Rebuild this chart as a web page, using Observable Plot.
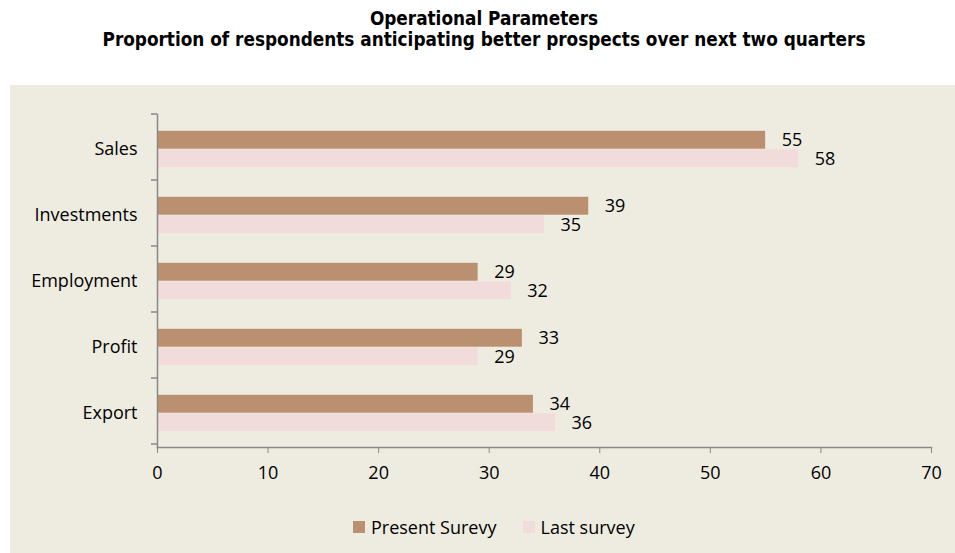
<!DOCTYPE html>
<html>
<head>
<meta charset="utf-8">
<script src="https://cdn.jsdelivr.net/npm/d3@7"></script>
<script src="https://cdn.jsdelivr.net/npm/@observablehq/plot@0.6"></script>
<style>
  html, body { margin: 0; padding: 0; background: #ffffff; }
  body { width: 955px; height: 553px; position: relative; overflow: hidden; }
  #title { position: absolute; left: 0; top: 8px; width: 968px; text-align: center;
    font-family: "DejaVu Sans Condensed", "DejaVu Sans", sans-serif; font-stretch: condensed;
    font-weight: bold; font-size: 18.8px; line-height: 21px; color: #000; }
  #panel { position: absolute; left: 10px; top: 85px; width: 945px; height: 468px; background: #EEECE1; }
  #chart svg { display: block; background: transparent; }
  #legend { position: absolute; left: 343px; top: 430px; display: flex; align-items: center;
    font-family: "Open Sans", sans-serif; font-size: 18px; color: #000; }
  .sw { width: 12px; height: 12px; display: inline-block; margin-right: 6px; }
  .item { display: flex; align-items: center; margin-right: 26px; }
</style>
</head>
<body>
<div id="title">Operational Parameters<br>Proportion of respondents anticipating better prospects over next two quarters</div>
<div id="panel">
  <div id="chart"></div>
  <div id="legend"></div>
</div>
<script>
const categories = ["Sales", "Investments", "Employment", "Profit", "Export"];
const seriesNames = ["Present Surevy", "Last survey"];
const presentValues = [55, 39, 29, 33, 34];
const lastValues = [58, 35, 32, 29, 36];
const xTicks = [0, 10, 20, 30, 40, 50, 60, 70];
const colors = ["#BA9070", "#F2DCDB"];

const present = categories.map((c, i) => ({category: c, series: seriesNames[0], value: presentValues[i]}));
const last = categories.map((c, i) => ({category: c, series: seriesNames[1], value: lastValues[i]}));

const axisGray = "#888888";
const font = "'Open Sans', sans-serif";
const fs = 18;

// boundary ticks on the y axis, drawn from the band scale
function yBoundaryTicks(index, scales, values, dimensions) {
  const y = scales.y;
  const {marginLeft} = dimensions;
  const step = y(categories[1]) - y(categories[0]);
  const starts = categories.map(c => y(c));
  const off = starts[0] - dimensions.marginTop; // 0 if band start, step/2 if center
  const bounds = starts.map(s => s - off);
  bounds.push(bounds[bounds.length - 1] + step);
  const g = d3.create("svg:g").attr("stroke", axisGray).attr("stroke-width", 1.5);
  for (const b of bounds) {
    g.append("line").attr("x1", marginLeft - 6).attr("x2", marginLeft).attr("y1", b).attr("y2", b);
  }
  return g.node();
}

const bw = (447 - 114) / 5;
const inOuter = bw * 0.222;
const inInner = bw * 0.5;

const chart = Plot.plot({
  width: 945,
  height: 410,
  marginTop: 29,
  marginBottom: 48,
  marginLeft: 147,
  marginRight: 24,
  style: {fontFamily: font, background: "transparent"},
  x: {domain: [0, 70], label: null},
  y: {domain: categories, padding: 0, label: null},
  marks: [
    Plot.barX(present, {x: "value", y: "category", fill: colors[0], insetTop: inOuter, insetBottom: inInner}),
    Plot.barX(last, {x: "value", y: "category", fill: colors[1], insetTop: inInner, insetBottom: inOuter}),
    Plot.text(present, {x: "value", y: "category", text: d => String(d.value), dx: 16, dy: -bw * 0.14, textAnchor: "start", fontSize: fs, fill: "#000"}),
    Plot.text(last, {x: "value", y: "category", text: d => String(d.value), dx: 16, dy: bw * 0.15, textAnchor: "start", fontSize: fs, fill: "#000"}),
    Plot.frame({anchor: "left", stroke: axisGray, strokeWidth: 1.5}),
    Plot.frame({anchor: "bottom", stroke: axisGray, strokeWidth: 1.5}),
    yBoundaryTicks,
    Plot.axisX({ticks: xTicks, tickSize: 6, tickPadding: 13, fontSize: fs, stroke: axisGray, fill: "#000", label: null, tickFormat: d => String(d)}),
    Plot.axisY({tickSize: 0, tickPadding: 20, fontSize: fs, fill: "#000", label: null})
  ]
});
document.getElementById("chart").appendChild(chart);

const legend = document.getElementById("legend");
seriesNames.forEach((name, i) => {
  const item = document.createElement("div");
  item.className = "item";
  const sw = document.createElement("span");
  sw.className = "sw";
  sw.style.background = colors[i];
  const label = document.createElement("span");
  label.textContent = name;
  item.appendChild(sw);
  item.appendChild(label);
  legend.appendChild(item);
});
</script>
</body>
</html>
